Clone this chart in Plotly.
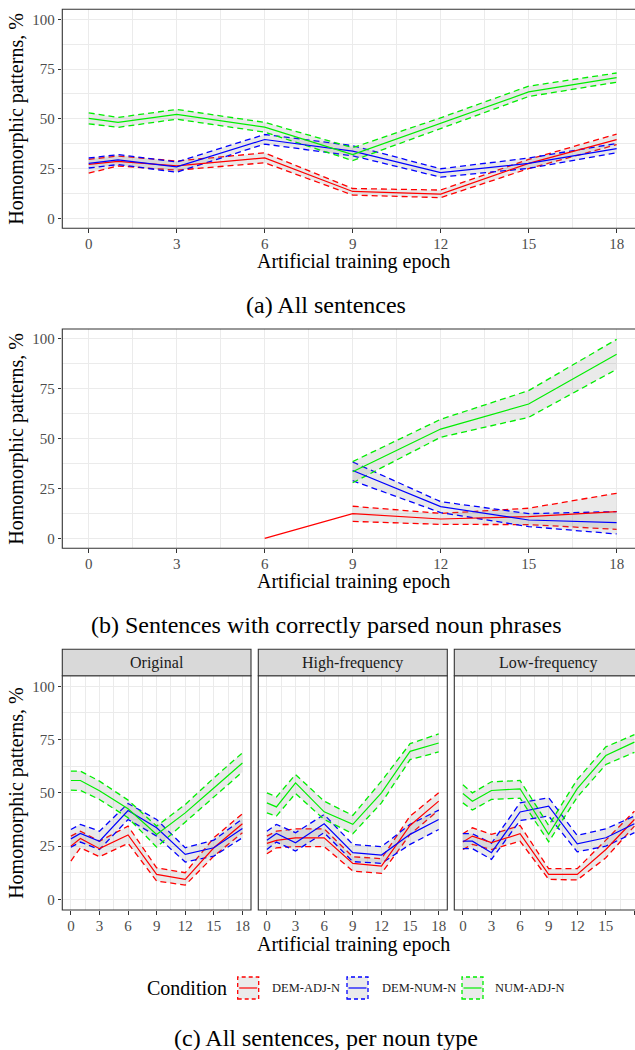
import plotly.graph_objects as go

# ---------------- data ----------------
EPOCHS = [0, 1, 3, 6, 9, 12, 15, 18]
X_TICKS = [0, 3, 6, 9, 12, 15, 18]
Y_TICKS = [0, 25, 50, 75, 100]
CONDITIONS = ["DEM-ADJ-N", "DEM-NUM-N", "NUM-ADJ-N"]
FACETS = ["Original", "High-frequency", "Low-frequency"]

# (a) All sentences
A_DAN_mean = [27.1, 28.6, 26.4, 30.4, 13.5, 12.2, 27.6, 39.5]
A_DAN_lo = [22.7, 26.3, 24.2, 27.9, 11.7, 10.4, 25.0, 37.0]
A_DAN_hi = [29.6, 31.3, 28.8, 32.9, 15.0, 14.2, 29.6, 42.3]
A_DNN_mean = [27.6, 29.4, 25.9, 39.6, 33.8, 23.0, 27.6, 35.0]
A_DNN_lo = [25.3, 27.0, 23.2, 37.3, 31.4, 20.7, 25.1, 33.0]
A_DNN_hi = [30.3, 32.0, 28.3, 42.1, 36.5, 24.9, 30.3, 37.6]
A_NAN_mean = [50.2, 48.2, 52.2, 45.8, 32.0, 47.7, 63.5, 70.7]
A_NAN_lo = [47.5, 45.7, 49.8, 43.3, 29.0, 45.2, 61.2, 68.4]
A_NAN_hi = [53.0, 50.7, 54.7, 48.2, 35.5, 50.5, 66.4, 73.0]

# (b) Sentences with correctly parsed noun phrases
B_DAN_mean = [None, None, None, 0.0, 12.4, 9.7, 10.9, 13.4]
B_DAN_lo = [None, None, None, None, 8.5, 7.0, 6.9, 4.5]
B_DAN_hi = [None, None, None, None, 16.1, 12.5, 15.1, 22.6]
B_DNN_mean = [None, None, None, None, 34.0, 15.9, 9.2, 7.9]
B_DNN_lo = [None, None, None, None, 28.9, 12.9, 5.9, 2.2]
B_DNN_hi = [None, None, None, None, 38.3, 18.4, 12.4, 13.4]
B_NAN_mean = [None, None, None, None, 33.4, 54.8, 67.4, 92.3]
B_NAN_lo = [None, None, None, None, 27.9, 50.7, 60.7, 84.8]
B_NAN_hi = [None, None, None, None, 38.5, 59.7, 74.1, 99.8]

# (c) per noun type -- Original
CO_DAN_mean = [25.0, 28.6, 23.8, 30.2, 11.7, 9.4, 24.2, 35.5]
CO_DAN_lo = [18.0, 24.2, 20.0, 26.3, 8.6, 6.7, 20.3, 31.3]
CO_DAN_hi = [29.7, 32.0, 27.3, 34.4, 14.8, 12.5, 28.9, 40.2]
CO_DNN_mean = [28.4, 30.9, 27.3, 41.7, 33.6, 21.1, 24.2, 33.3]
CO_DNN_lo = [24.5, 26.9, 23.4, 37.5, 29.7, 17.5, 20.3, 28.9]
CO_DNN_hi = [32.8, 35.2, 32.0, 45.0, 37.5, 24.2, 27.8, 37.8]
CO_NAN_mean = [55.8, 55.8, 51.0, 42.5, 30.5, 40.6, 52.3, 64.0]
CO_NAN_lo = [51.3, 51.1, 46.9, 38.3, 24.5, 36.4, 48.1, 59.8]
CO_NAN_hi = [60.2, 60.2, 55.5, 46.6, 34.4, 44.5, 57.0, 68.8]

# High-frequency
CH_DAN_mean = [26.3, 27.7, 28.9, 28.9, 16.9, 15.6, 34.7, 46.1]
CH_DAN_lo = [21.4, 24.2, 24.8, 24.8, 13.3, 12.2, 30.5, 41.9]
CH_DAN_hi = [29.7, 32.0, 33.1, 33.1, 20.0, 19.1, 39.1, 50.0]
CH_DNN_mean = [27.8, 30.9, 26.6, 35.5, 21.9, 20.8, 30.5, 37.5]
CH_DNN_lo = [23.4, 26.9, 22.7, 31.3, 17.7, 16.9, 25.8, 32.8]
CH_DNN_hi = [32.0, 35.2, 31.3, 39.8, 25.8, 24.7, 35.2, 41.9]
CH_NAN_mean = [45.3, 43.4, 54.7, 41.1, 35.2, 50.0, 69.5, 73.4]
CH_NAN_lo = [40.6, 39.1, 49.7, 37.5, 30.8, 45.3, 65.6, 69.2]
CH_NAN_hi = [50.0, 48.1, 58.6, 46.1, 39.4, 55.5, 73.1, 77.7]

# Low-frequency
CL_DAN_mean = [26.9, 29.7, 26.6, 30.8, 11.7, 11.7, 23.4, 37.5]
CL_DAN_lo = [23.4, 25.8, 23.4, 27.3, 9.4, 9.1, 19.5, 34.4]
CL_DAN_hi = [30.8, 33.6, 30.5, 34.7, 14.4, 14.4, 27.8, 41.4]
CL_DNN_mean = [27.3, 27.3, 21.9, 41.0, 43.8, 26.1, 28.9, 35.5]
CL_DNN_lo = [23.8, 23.8, 18.8, 37.0, 39.1, 22.3, 25.0, 31.3]
CL_DNN_hi = [30.9, 30.8, 26.3, 45.3, 47.7, 30.0, 33.1, 39.1]
CL_NAN_mean = [49.7, 46.1, 51.1, 51.9, 30.5, 52.0, 67.5, 73.8]
CL_NAN_lo = [45.3, 41.9, 46.9, 47.5, 27.0, 48.0, 63.3, 69.0]
CL_NAN_hi = [53.8, 50.0, 55.2, 55.8, 34.7, 56.3, 71.6, 77.3]

# ---------------- style ----------------
W, H = 635, 1050
SERIF = "Liberation Serif, Times New Roman, serif"
COLORS = {"DEM-ADJ-N": "#FF0000", "DEM-NUM-N": "#0000FF", "NUM-ADJ-N": "#00EE00"}
RIBBON = "rgba(128,128,128,0.17)"
BORDER = "#333333"
GRID = "#EBEBEB"


def px(x):
    return x / W


def py(y):
    return 1 - y / H


fig = go.Figure()


def add_panel(xa, ya, groups):
    # ribbons + dashed bounds
    for cond, (mean, lo, hi) in groups:
        col = COLORS[cond]
        idx = [i for i in range(len(EPOCHS)) if lo[i] is not None and hi[i] is not None]
        xs = [EPOCHS[i] for i in idx] + [EPOCHS[i] for i in reversed(idx)]
        ys = [hi[i] for i in idx] + [lo[i] for i in reversed(idx)]
        fig.add_trace(go.Scatter(x=xs, y=ys, xaxis=xa, yaxis=ya, mode="lines",
                                 fill="toself", fillcolor=RIBBON, line=dict(width=0),
                                 hoverinfo="skip", showlegend=False))
        for bound in (hi, lo):
            fig.add_trace(go.Scatter(x=EPOCHS, y=bound, xaxis=xa, yaxis=ya, mode="lines",
                                     line=dict(color=col, width=1.3, dash="6px,4px"),
                                     connectgaps=False, showlegend=False))
    for cond, (mean, lo, hi) in groups:
        fig.add_trace(go.Scatter(x=EPOCHS, y=mean, xaxis=xa, yaxis=ya, mode="lines",
                                 line=dict(color=COLORS[cond], width=1.2),
                                 connectgaps=False, name=cond, showlegend=False))


add_panel("x", "y", [("DEM-ADJ-N", (A_DAN_mean, A_DAN_lo, A_DAN_hi)),
                     ("DEM-NUM-N", (A_DNN_mean, A_DNN_lo, A_DNN_hi)),
                     ("NUM-ADJ-N", (A_NAN_mean, A_NAN_lo, A_NAN_hi))])
add_panel("x2", "y2", [("DEM-ADJ-N", (B_DAN_mean, B_DAN_lo, B_DAN_hi)),
                       ("DEM-NUM-N", (B_DNN_mean, B_DNN_lo, B_DNN_hi)),
                       ("NUM-ADJ-N", (B_NAN_mean, B_NAN_lo, B_NAN_hi))])
add_panel("x3", "y3", [("DEM-ADJ-N", (CO_DAN_mean, CO_DAN_lo, CO_DAN_hi)),
                       ("DEM-NUM-N", (CO_DNN_mean, CO_DNN_lo, CO_DNN_hi)),
                       ("NUM-ADJ-N", (CO_NAN_mean, CO_NAN_lo, CO_NAN_hi))])
add_panel("x4", "y4", [("DEM-ADJ-N", (CH_DAN_mean, CH_DAN_lo, CH_DAN_hi)),
                       ("DEM-NUM-N", (CH_DNN_mean, CH_DNN_lo, CH_DNN_hi)),
                       ("NUM-ADJ-N", (CH_NAN_mean, CH_NAN_lo, CH_NAN_hi))])
add_panel("x5", "y5", [("DEM-ADJ-N", (CL_DAN_mean, CL_DAN_lo, CL_DAN_hi)),
                       ("DEM-NUM-N", (CL_DNN_mean, CL_DNN_lo, CL_DNN_hi)),
                       ("NUM-ADJ-N", (CL_NAN_mean, CL_NAN_lo, CL_NAN_hi))])

TICKFONT = dict(family=SERIF, size=15, color="#4D4D4D")


def xaxis(domain, rng, anchor):
    return dict(domain=domain, range=rng, anchor=anchor, tickmode="array", tickvals=X_TICKS,
                ticks="outside", ticklen=3.5, tickwidth=1.1, tickcolor=BORDER, tickfont=TICKFONT,
                ticklabelstandoff=-2,
                showgrid=True, gridcolor=GRID, gridwidth=1.1, zeroline=False, showline=False,
                minor=dict(tickvals=[1.5, 4.5, 7.5, 10.5, 13.5, 16.5], showgrid=True,
                           gridcolor=GRID, gridwidth=0.6, ticks=""),
                fixedrange=True)


def yaxis(domain, anchor, labels=True):
    return dict(domain=domain, range=[-5, 105], anchor=anchor, tickmode="array", tickvals=Y_TICKS,
                ticks="outside" if labels else "", ticklen=3.5, tickwidth=1.1, tickcolor=BORDER,
                showticklabels=labels, tickfont=TICKFONT,
                showgrid=True, gridcolor=GRID, gridwidth=1.1, zeroline=False, showline=False,
                minor=dict(tickvals=[12.5, 37.5, 62.5, 87.5], showgrid=True,
                           gridcolor=GRID, gridwidth=0.6, ticks=""),
                fixedrange=True)


# panel geometry (pixels)
A_L, A_T, A_B = 62.3, 9.3, 228.3
B_T, B_B = 329.0, 548.3
C_T, C_B, S_T = 675.7, 910.0, 649.3
FX = [(62.3, 251.0), (258.3, 447.3), (454.3, 643.2)]
A_PP = 29.33
a_right = -0.9 + (W - A_L) / A_PP
f_pp = (FX[0][1] - FX[0][0]) / 19.8
f3_right = -0.9 + (W - FX[2][0]) / f_pp

fig.update_layout(
    xaxis=xaxis([px(A_L), 1], [-0.9, a_right], "y"),
    yaxis=yaxis([py(A_B), py(A_T)], "x"),
    xaxis2=xaxis([px(A_L), 1], [-0.9, a_right], "y2"),
    yaxis2=yaxis([py(B_B), py(B_T)], "x2"),
    xaxis3=xaxis([px(FX[0][0]), px(FX[0][1])], [-0.9, 18.9], "y3"),
    yaxis3=yaxis([py(C_B), py(C_T)], "x3"),
    xaxis4=xaxis([px(FX[1][0]), px(FX[1][1])], [-0.9, 18.9], "y4"),
    yaxis4=yaxis([py(C_B), py(C_T)], "x4", labels=False),
    xaxis5=xaxis([px(FX[2][0]), 1], [-0.9, f3_right], "y5"),
    yaxis5=yaxis([py(C_B), py(C_T)], "x5", labels=False),
)

shapes = []
annotations = []


def border(x0, y0, x1, y1, fill=None):
    shapes.append(dict(type="rect", xref="paper", yref="paper", x0=px(x0), x1=px(x1),
                       y0=py(y1), y1=py(y0), line=dict(color=BORDER, width=1.1),
                       fillcolor=fill if fill else "rgba(0,0,0,0)", layer="above"))


# right edges of the wide panels lie past the page edge, as in the original
border(A_L, A_T, 643.0, A_B)
border(A_L, B_T, 643.0, B_B)
for (x0, x1), name in zip(FX, FACETS):
    border(x0, C_T, x1, C_B)
    border(x0, S_T, x1, C_T, fill="#D9D9D9")
    annotations.append(dict(text=name, xref="paper", yref="paper", x=px((x0 + x1) / 2),
                            y=py((S_T + C_T) / 2), showarrow=False, xanchor="center",
                            yanchor="middle", font=dict(family=SERIF, size=16, color="#1A1A1A")))


def text(t, x, y, size, angle=0, xanchor="center", color="#000000"):
    annotations.append(dict(text=t, xref="paper", yref="paper", x=px(x), y=py(y),
                            showarrow=False, xanchor=xanchor, yanchor="middle", textangle=angle,
                            font=dict(family=SERIF, size=size, color=color)))


for yc, ymid in [(261, (A_T + A_B) / 2), (581, (B_T + B_B) / 2), (944, (C_T + C_B) / 2)]:
    text("Artificial training epoch", 353, yc, 20)
    text("Homomorphic patterns, %", 17, ymid, 20, angle=-90)

text("(a) All sentences", 326, 305, 24)
text("(b) Sentences with correctly parsed noun phrases", 326, 625, 24)
text("(c) All sentences, per noun type", 326, 1038, 24)

# legend
LY = 988
text("Condition", 145, LY, 20, xanchor="left")
for (kx, tx), cond in zip([(237.7, 270), (347, 380), (462, 493)], CONDITIONS):
    shapes.append(dict(type="rect", xref="paper", yref="paper", x0=px(kx), x1=px(kx + 21),
                       y0=py(LY + 11), y1=py(LY - 11), fillcolor="#EBEBEB",
                       line=dict(color=COLORS[cond], width=1.3, dash="4px,3px")))
    shapes.append(dict(type="line", xref="paper", yref="paper", x0=px(kx + 1.5), x1=px(kx + 19.5),
                       y0=py(LY), y1=py(LY), line=dict(color=COLORS[cond], width=1.2)))
    text(cond, tx, LY, 12.5, xanchor="left", color="#1A1A1A")

fig.update_layout(width=W, height=H, margin=dict(l=0, r=0, t=0, b=0), autosize=False,
                  paper_bgcolor="white", plot_bgcolor="white", showlegend=False,
                  shapes=shapes, annotations=annotations)

fig.write_html("out.html", config={"displayModeBar": False, "responsive": False},
               post_script="document.body.style.margin='0px';document.body.style.overflow='hidden';")
